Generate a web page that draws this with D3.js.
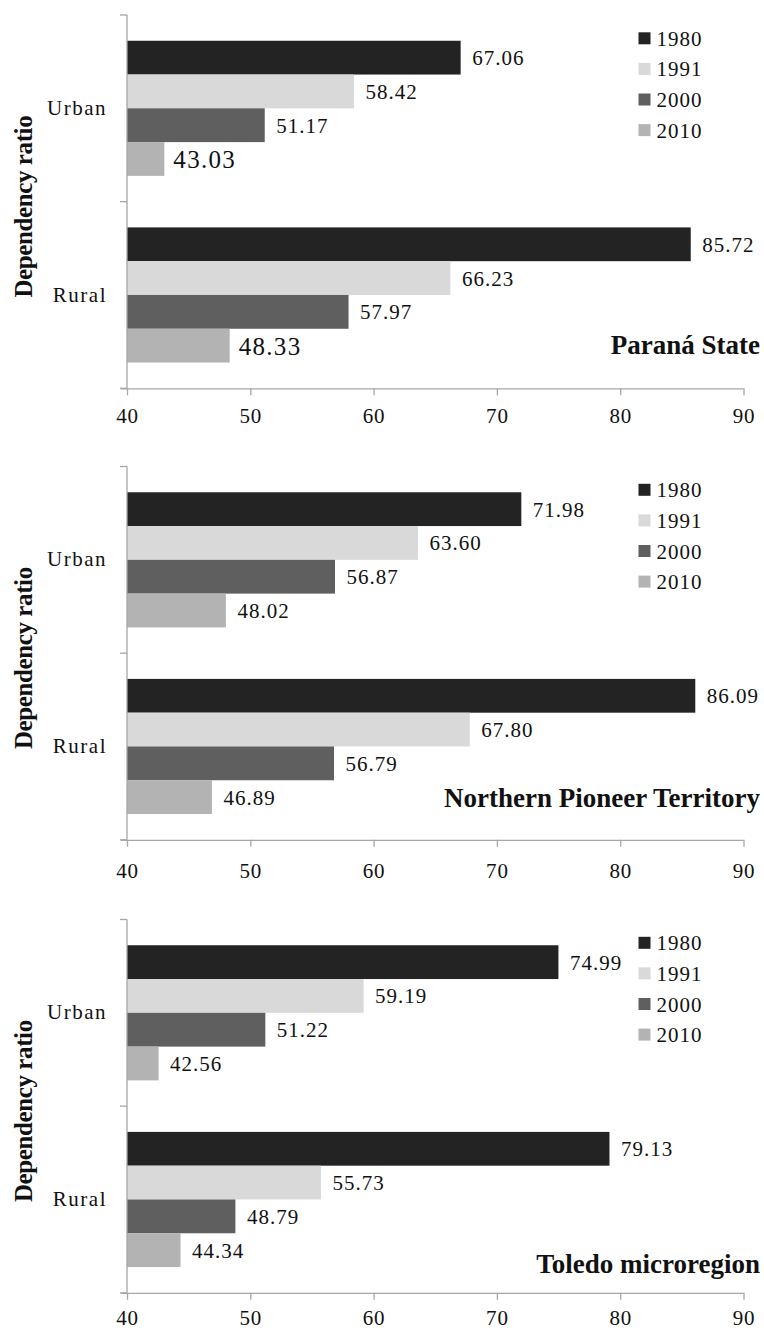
<!DOCTYPE html>
<html>
<head>
<meta charset="utf-8">
<script src="https://cdn.jsdelivr.net/npm/d3@7/dist/d3.min.js"></script>
<style>
  html, body { margin: 0; padding: 0; background: #fff; }
  svg { display: block; }
  text { font-family: "Liberation Serif", "Times New Roman", serif; fill: #111; }
</style>
</head>
<body>
<svg id="chart" width="764" height="1331"></svg>
<script>
// ---- data ----
const panels = ["Paraná State", "Northern Pioneer Territory", "Toledo microregion"];
const categories = ["Urban", "Rural"];
const years = ["1980", "1991", "2000", "2010"];
const xTicks = [40, 50, 60, 70, 80, 90];
const yTitle = "Dependency ratio";

// values[panel][category] -> per year
const parana = {
  Urban: [67.06, 58.42, 51.17, 43.03],
  Rural: [85.72, 66.23, 57.97, 48.33]
};
const northern = {
  Urban: [71.98, 63.60, 56.87, 48.02],
  Rural: [86.09, 67.80, 56.79, 46.89]
};
const toledo = {
  Urban: [74.99, 59.19, 51.22, 42.56],
  Rural: [79.13, 55.73, 48.79, 44.34]
};
const panelValues = [parana, northern, toledo];
// labels drawn in a larger size in the original
const largeLabels = [["Paraná State", "Urban", "2010"], ["Paraná State", "Rural", "2010"]];

// ---- styles / layout ----
const colors = { "1980": "#232323", "1991": "#d9d9d9", "2000": "#5f5f5f", "2010": "#b3b3b3" };
const panelOffsets = [0, 451.5, 904.5];
const titleBaselines = [353.5, 806.5, 1272.5];
const tickPads = [13, 16, 10];
const plotLeft = 127, plotRight = 743.5, plotTop = 15, plotBottom = 388.3;
const axisColor = "#a6a6a6";

const svg = d3.select("#chart");

const x = d3.scaleLinear().domain([40, 90]).range([plotLeft, plotRight]);

panels.forEach((name, pi) => {
  const off = panelOffsets[pi];
  const g = svg.append("g").attr("transform", `translate(0,${off})`);
  const vals = panelValues[pi];

  const y0 = d3.scaleBand().domain(categories).range([plotTop, plotBottom])
    .paddingInner(0.276).paddingOuter(0.138);
  const y1 = d3.scaleBand().domain(years).range([0, y0.bandwidth()]);

  // bars
  categories.forEach(cat => {
    const cg = g.append("g").attr("transform", `translate(0,${y0(cat)})`);
    const rows = years.map((yr, i) => ({ yr, v: vals[cat][i] }));
    cg.selectAll("rect").data(rows).join("rect")
      .attr("x", x(40))
      .attr("y", d => y1(d.yr))
      .attr("width", d => x(d.v) - x(40))
      .attr("height", y1.bandwidth())
      .attr("fill", d => colors[d.yr]);
    cg.selectAll("text").data(rows).join("text")
      .each(function(d) {
        const big = largeLabels.some(l => l[0] === name && l[1] === cat && l[2] === d.yr);
        d3.select(this)
          .attr("x", x(d.v) + (big ? 9 : 11.5))
          .attr("y", y1(d.yr) + y1.bandwidth() / 2)
          .attr("dy", "0.36em")
          .style("font-size", big ? "25px" : "21px")
          .style("letter-spacing", big ? "1.3px" : "1px")
          .text(d.v.toFixed(2));
      });
  });

  // x axis
  const xAxis = d3.axisBottom(x).tickValues(xTicks).tickSize(7).tickPadding(tickPads[pi])
    .tickFormat(d3.format("d"));
  const ax = g.append("g").attr("transform", `translate(0,${plotBottom})`).call(xAxis);
  ax.select(".domain").attr("stroke", axisColor).attr("stroke-width", 1.3)
    .attr("d", `M${plotLeft - 6},0.5H${plotRight}`);
  ax.selectAll(".tick line").attr("stroke", axisColor).attr("stroke-width", 1.3);
  ax.selectAll(".tick text")
    .style("font-family", '"Liberation Serif", "Times New Roman", serif')
    .style("font-size", "21px").style("letter-spacing", "0.8px").attr("fill", "#111");

  // y axis line + ticks at category boundaries
  g.append("line").attr("x1", plotLeft).attr("x2", plotLeft)
    .attr("y1", plotTop).attr("y2", plotBottom)
    .attr("stroke", axisColor).attr("stroke-width", 1.3);
  const half = y0.step() * y0.paddingInner() / 2;
  const bounds = [y0(categories[0]) - half].concat(categories.map(c => y0(c) + y0.bandwidth() + half));
  g.selectAll(".ytick").data(bounds).join("line").attr("class", "ytick")
    .attr("x1", plotLeft - 7).attr("x2", plotLeft)
    .attr("y1", d => d).attr("y2", d => d)
    .attr("stroke", axisColor).attr("stroke-width", 1.3);

  // category labels
  g.selectAll(".cat").data(categories).join("text").attr("class", "cat")
    .attr("x", 107).attr("y", d => y0(d) + y0.bandwidth() / 2 - 1)
    .attr("dy", "0.36em").attr("text-anchor", "end")
    .style("font-size", "21px").style("letter-spacing", "1.5px")
    .text(d => d);

  // y title
  const midY = (bounds[0] + bounds[bounds.length - 1]) / 2 + 5;
  g.append("text")
    .attr("transform", `translate(32,${midY}) rotate(-90)`)
    .attr("text-anchor", "middle")
    .style("font-size", "25px").style("font-weight", "bold").style("letter-spacing", "-0.4px")
    .text(yTitle);

  // legend
  const lg = g.append("g");
  years.forEach((yr, i) => {
    const cy = 38.3 + i * 30.6;
    lg.append("rect").attr("x", 638.5).attr("y", cy - 6).attr("width", 12).attr("height", 12)
      .attr("fill", colors[yr]);
    lg.append("text").attr("x", 656.5).attr("y", cy).attr("dy", "0.36em")
      .style("font-size", "21px").style("letter-spacing", "1px").text(yr);
  });

  // panel title
  svg.append("text").attr("x", 760).attr("y", titleBaselines[pi])
    .attr("text-anchor", "end")
    .style("font-size", "27px").style("font-weight", "bold")
    .text(name);
});
</script>
</body>
</html>
